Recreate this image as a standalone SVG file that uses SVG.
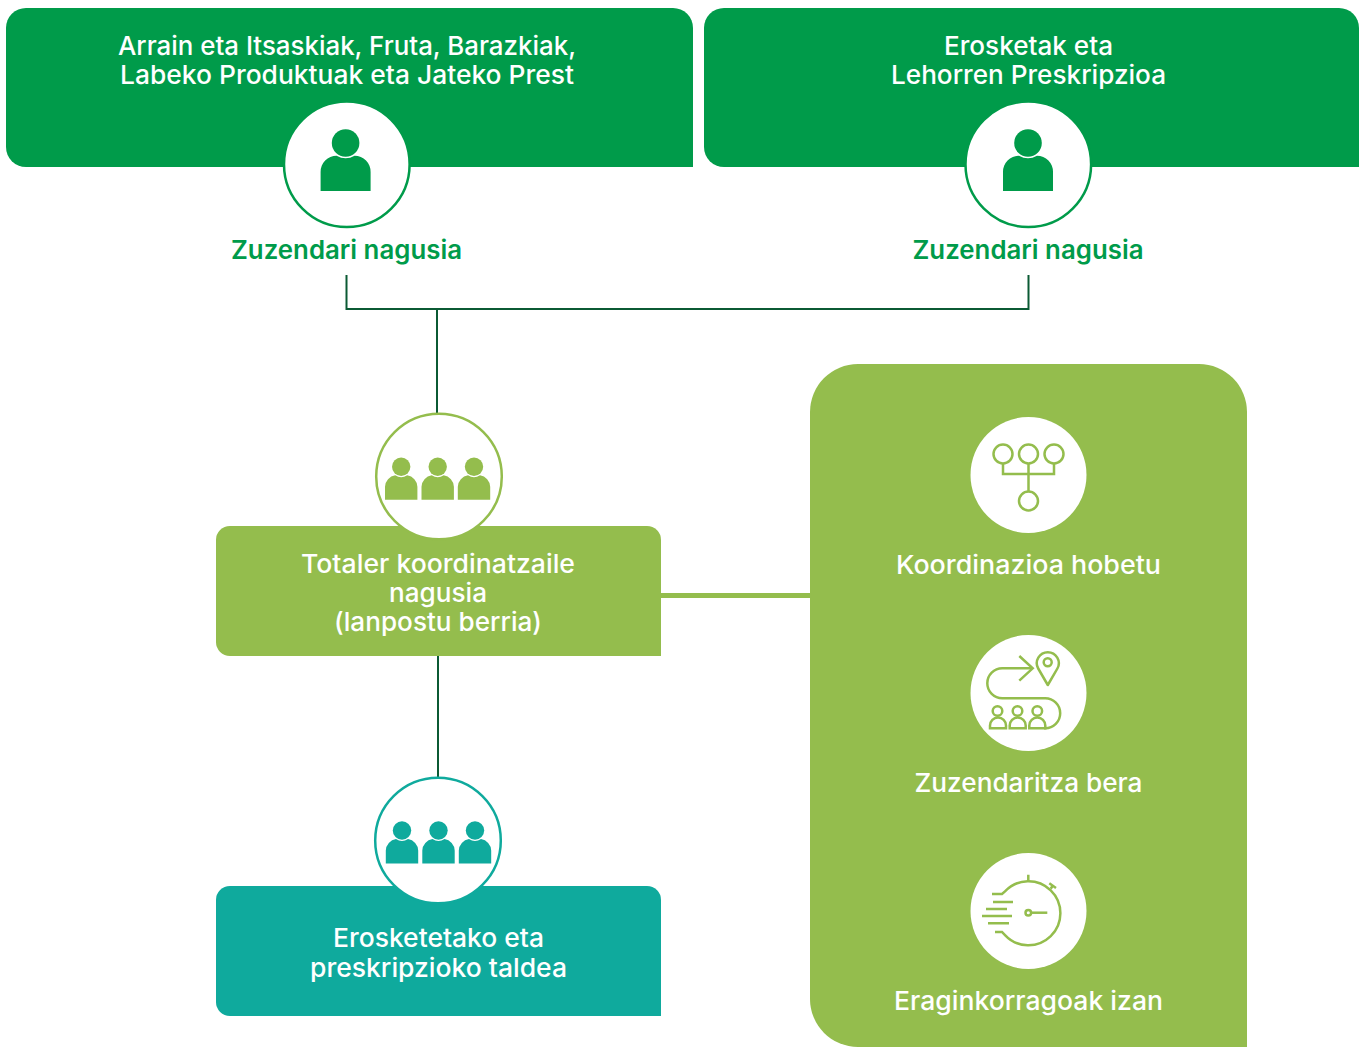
<svg xmlns="http://www.w3.org/2000/svg" width="1361" height="1047" viewBox="0 0 1361 1047">
<style>
text{font-family:"Inter","Noto Sans","Liberation Sans",sans-serif;font-weight:500;text-anchor:middle;font-size:26px}
.t{fill:#fff}
.g{fill:#009b4a;font-weight:600}
.ic{fill:none;stroke:#94bd4d;stroke-width:2.5}
.cn{fill:none;stroke:#0b5a34;stroke-width:2}
</style>
<defs>
<g id="person"><circle cx="0" cy="-48" r="13.800"/><path d="M-25 0V-19A16 16 0 0 1 -9-35.300Q0-30 9-35.300A16 16 0 0 1 25-19V0Z"/></g>
<g id="p3"><circle cx="0" cy="-33" r="9.200"/><path d="M-16.200 0V-13A12 12 0 0 1 -6-24.500Q0-20.500 6-24.500A12 12 0 0 1 16.200-13V0Z"/></g>
</defs>
<g id="connectors">
<path class="cn" d="M346.500 275V309H1028.500V275M437 309V414M438 656V778"/>
<path d="M660 595.500H811" fill="none" stroke="#94bd4d" stroke-width="5"/>
</g>
<g id="node-left">
<path d="M26 8H673A20 20 0 0 1 693 28V167H26A20 20 0 0 1 6 147V28A20 20 0 0 1 26 8Z" fill="#009b4a"/>
<text class="t" x="347" y="55" textLength="458" lengthAdjust="spacingAndGlyphs">Arrain eta Itsaskiak, Fruta, Barazkiak,</text>
<text class="t" x="347" y="84" textLength="454" lengthAdjust="spacingAndGlyphs">Labeko Produktuak eta Jateko Prest</text>
<circle cx="346.800" cy="164.300" r="62.800" fill="#fff" stroke="#009b4a" stroke-width="2.500"/>
<use href="#person" x="345.600" y="191" fill="#009b4a"/>
<text class="g" x="346.500" y="259" textLength="231" lengthAdjust="spacingAndGlyphs">Zuzendari nagusia</text>
</g>
<g id="node-right">
<path d="M724 8H1339A20 20 0 0 1 1359 28V167H724A20 20 0 0 1 704 147V28A20 20 0 0 1 724 8Z" fill="#009b4a"/>
<text class="t" x="1028.500" y="55" textLength="169" lengthAdjust="spacingAndGlyphs">Erosketak eta</text>
<text class="t" x="1028.500" y="84" textLength="275" lengthAdjust="spacingAndGlyphs">Lehorren Preskripzioa</text>
<circle cx="1028.300" cy="164.300" r="62.800" fill="#fff" stroke="#009b4a" stroke-width="2.500"/>
<use href="#person" x="1028" y="191" fill="#009b4a"/>
<text class="g" x="1028" y="259" textLength="231" lengthAdjust="spacingAndGlyphs">Zuzendari nagusia</text>
</g>
<g id="node-coordinator">
<path d="M230 526H647A14 14 0 0 1 661 540V656H230A14 14 0 0 1 216 642V540A14 14 0 0 1 230 526Z" fill="#94bd4d"/>
<circle cx="439" cy="476.500" r="62.800" fill="#fff" stroke="#94bd4d" stroke-width="2.500"/>
<g fill="#94bd4d"><use href="#p3" x="401.200" y="499.800"/><use href="#p3" x="437.700" y="499.800"/><use href="#p3" x="474" y="499.800"/></g>
<text class="t" x="438" y="573" textLength="274" lengthAdjust="spacingAndGlyphs">Totaler koordinatzaile</text>
<text class="t" x="438" y="602" textLength="98" lengthAdjust="spacingAndGlyphs">nagusia</text>
<text class="t" x="438" y="631" textLength="208" lengthAdjust="spacingAndGlyphs">(lanpostu berria)</text>
</g>
<g id="node-team">
<path d="M230 886H647A14 14 0 0 1 661 900V1016H230A14 14 0 0 1 216 1002V900A14 14 0 0 1 230 886Z" fill="#0faa9d"/>
<circle cx="438" cy="840.500" r="62.800" fill="#fff" stroke="#0faa9d" stroke-width="2.500"/>
<g fill="#0faa9d"><use href="#p3" x="402" y="863.500"/><use href="#p3" x="438.500" y="863.500"/><use href="#p3" x="475" y="863.500"/></g>
<text class="t" x="438.500" y="947" textLength="211" lengthAdjust="spacingAndGlyphs">Erosketetako eta</text>
<text class="t" x="438.500" y="977" textLength="257" lengthAdjust="spacingAndGlyphs">preskripzioko taldea</text>
</g>
<g id="node-benefits">
<path d="M858 364H1199A48 48 0 0 1 1247 412V1047H858A48 48 0 0 1 810 999V412A48 48 0 0 1 858 364Z" fill="#94bd4d"/>
<g id="benefit-1">
<circle cx="1028.500" cy="475" r="58" fill="#fff"/>
<g class="ic"><circle cx="1003" cy="454" r="9.500"/><circle cx="1028.500" cy="454" r="9.500"/><circle cx="1054" cy="454" r="9.500"/><circle cx="1028.500" cy="501" r="9.500"/><path d="M1003 463.500V474H1054V463.500M1028.500 463.500V491.500"/></g>
<text class="t" x="1028.500" y="574" textLength="265" lengthAdjust="spacingAndGlyphs">Koordinazioa hobetu</text>
</g>
<g id="benefit-2">
<circle cx="1028.500" cy="693" r="58" fill="#fff"/>
<g class="ic">
<path d="M1032 668.300H1002.300A15 15 0 0 0 1002.300 698.300H1045.200A15 15 0 0 1 1045.200 728.300H1044"/>
<path d="M1019.300 656L1032.700 668.300L1019.300 680.700"/>
<path d="M1047.800 685L1038.200 668.500A11 11 0 1 1 1057.400 668.500Z" stroke-linejoin="round"/>
<circle cx="1047.700" cy="662.300" r="4"/>
<circle cx="997.500" cy="711" r="4.800"/><circle cx="1017.500" cy="711" r="4.800"/><circle cx="1037.300" cy="711" r="4.800"/>
<path d="M990 728.300V725.500A8 8 0 0 1 1006 725.500V728.300ZM1009.700 728.300V725.500A8 8 0 0 1 1025.700 725.500V728.300ZM1029.300 728.300V725.500A8 8 0 0 1 1045.300 725.500V728.300Z"/>
</g>
<text class="t" x="1028.500" y="792" textLength="228" lengthAdjust="spacingAndGlyphs">Zuzendaritza bera</text>
</g>
<g id="benefit-3">
<circle cx="1028.500" cy="911" r="58" fill="#fff"/>
<g class="ic">
<path d="M992 894H1002L1005 891.400A32 32 0 1 1 1005 935.100L1002 932H995"/>
<path d="M993 902H1013M986 909H1007M982 916H1012M988 923.300H1009M1028.300 874.700V881M1049.300 883.300L1056 888M1052.700 885.700L1050.700 888.700"/>
<circle cx="1028.300" cy="912.700" r="2.800"/>
<path d="M1031.500 912.700H1047.300"/>
</g>
<text class="t" x="1028.500" y="1010" textLength="269" lengthAdjust="spacingAndGlyphs">Eraginkorragoak izan</text>
</g>
</g>
</svg>
